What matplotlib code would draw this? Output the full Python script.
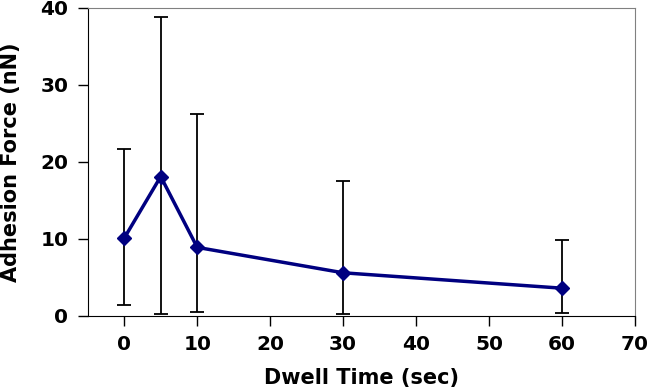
import numpy as np
import matplotlib.pyplot as plt

# 数据
dwell = [0, 5, 10, 30, 60]
force = [10.1, 18.1, 8.9, 5.6, 3.6]
err_low = [8.7, 17.8, 8.4, 5.3, 3.2]
err_high = [11.6, 20.7, 17.3, 11.9, 6.3]

fig = plt.figure(figsize=(6.5, 3.91), dpi=100)
ax = fig.add_axes([0.135, 0.192, 0.842, 0.788])

ax.errorbar(dwell, force, yerr=[err_low, err_high], color='#000080', lw=2.5,
            marker='D', markersize=7, ecolor='black', elinewidth=1.3,
            capsize=5, capthick=1.3, zorder=3)

ax.set_xlim(-5, 70)
ax.set_ylim(0, 40)
ax.set_xticks(np.arange(0, 71, 10))
ax.set_yticks(np.arange(0, 41, 10))
for sp in ['top', 'right']:
    ax.spines[sp].set_color('#808080')
for sp in ['left', 'bottom']:
    ax.spines[sp].set_color('black')
ax.tick_params(direction='out', length=7, width=1, labelsize=14.5, pad=7)
for lab in ax.get_xticklabels() + ax.get_yticklabels():
    lab.set_fontweight('bold')
ax.set_xlabel('Dwell Time (sec)', fontsize=15, fontweight='bold', labelpad=10)
ax.set_ylabel('Adhesion Force (nN)', fontsize=15, fontweight='bold', labelpad=14)

fig.savefig('out.png', dpi=100)
